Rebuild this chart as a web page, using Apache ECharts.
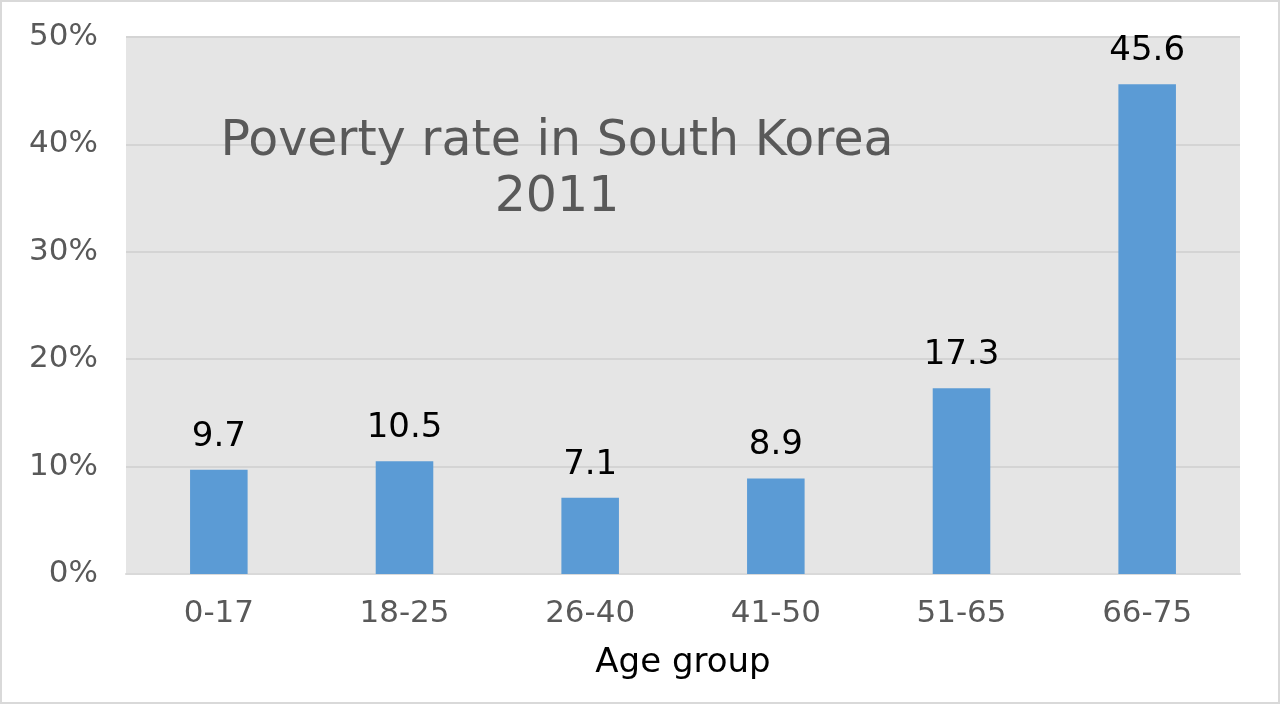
<!DOCTYPE html>
<html>
<head>
<meta charset="utf-8">
<script src="https://cdn.jsdelivr.net/npm/echarts@6/dist/echarts.min.js"></script>
<style>
  html, body { margin: 0; padding: 0; background: #fff; }
  #main { width: 1280px; height: 704px; box-sizing: border-box; border: 2px solid #d9d9d9; }
</style>
</head>
<body>
<div id="main"></div>
<script>
// 年龄组
var ageGroups = ['0-17', '18-25', '26-40', '41-50', '51-65', '66-75'];
// 贫困率 (%)
var povertyRates = [9.7, 10.5, 7.1, 8.9, 17.3, 45.6];
var titleLines = ['Poverty rate in South Korea', '2011'];

var myChart = echarts.init(document.getElementById('main'));
var font = 'DejaVu Sans';

var option = {
    backgroundColor: '#ffffff',
    animation: false,
    title: {
        text: titleLines.join('\n'),
        left: 550,
        top: 107,
        textAlign: 'center',
        textStyle: {
            fontFamily: font,
            fontSize: 49,
            fontWeight: 'normal',
            color: '#595959',
            lineHeight: 56,
            align: 'center'
        }
    },
    grid: {
        left: 124,
        right: 38,
        top: 35,
        bottom: 128,
        show: true,
        backgroundColor: '#e5e5e5',
        borderWidth: 0
    },
    xAxis: {
        type: 'category',
        data: ageGroups,
        name: 'Age group',
        nameLocation: 'middle',
        nameGap: 72,
        nameTextStyle: { fontFamily: font, fontSize: 34, color: '#000' },
        axisLine: { lineStyle: { color: '#d9d9d9', width: 2 } },
        axisTick: { show: false },
        axisLabel: { fontFamily: font, fontSize: 31, color: '#595959', margin: 24 }
    },
    yAxis: {
        type: 'value',
        min: 0,
        max: 50,
        interval: 10,
        axisLine: { show: false },
        axisTick: { show: false },
        splitLine: { lineStyle: { color: '#d4d4d4', width: 2 } },
        axisLabel: {
            fontFamily: font, fontSize: 31, color: '#595959', margin: 28,
            formatter: function (v) { return v + '%'; }
        }
    },
    series: [{
        type: 'bar',
        data: povertyRates,
        barWidth: '31%',
        itemStyle: { color: '#5b9bd5' },
        label: {
            show: true,
            position: 'top',
            distance: 16,
            fontFamily: font,
            fontSize: 34,
            color: '#000'
        }
    }]
};
myChart.setOption(option);
</script>
</body>
</html>
